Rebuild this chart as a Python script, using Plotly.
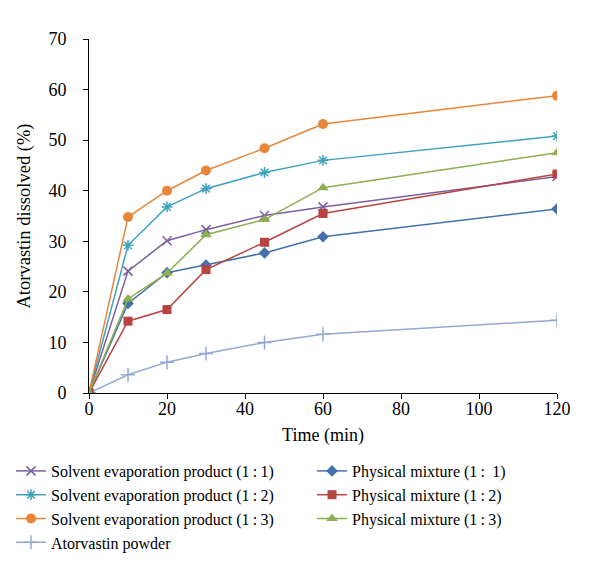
import plotly.graph_objects as go

time_min = [0, 10, 20, 30, 45, 60, 120]

se_11 = [0, 24.1, 30.1, 32.3, 35.1, 36.8, 42.8]
se_12 = [0, 29.2, 36.8, 40.4, 43.6, 46.0, 50.8]
se_13 = [0, 34.8, 40.0, 44.0, 48.4, 53.2, 58.8]
atorvastin = [0, 3.6, 6.1, 7.8, 10.0, 11.6, 14.4]
pm_11 = [0, 17.7, 23.8, 25.3, 27.7, 30.9, 36.4]
pm_12 = [0, 14.2, 16.5, 24.4, 29.8, 35.5, 43.3]
pm_13 = [0, 18.6, 23.7, 31.3, 34.3, 40.6, 47.5]

names = {
    "se11": "Solvent evaporation product (1\u2009:\u20091)",
    "se12": "Solvent evaporation product (1\u2009:\u20092)",
    "se13": "Solvent evaporation product (1\u2009:\u20093)",
    "atv": "Atorvastin powder",
    "pm11": "Physical mixture (1\u2009: \u20091)",
    "pm12": "Physical mixture (1\u2009:\u20092)",
    "pm13": "Physical mixture (1\u2009:\u20093)",
}

FONT = "Liberation Serif"

series = [
    ("se11", se_11, "#7B5E9E", "x-thin-open", 9, "legend"),
    ("se12", se_12, "#3FA2BD", "asterisk-open", 9, "legend"),
    ("se13", se_13, "#E8863A", "circle", 10, "legend"),
    ("atv", atorvastin, "#93A9D2", "cross-thin-open", 10, "legend"),
    ("pm11", pm_11, "#4471AA", "diamond", 9, "legend2"),
    ("pm12", pm_12, "#B8433F", "square", 9, "legend2"),
    ("pm13", pm_13, "#8DAE4F", "triangle-up", 10, "legend2"),
]

fig = go.Figure()
for key, vals, col, sym, size, leg in series:
    thin = sym.endswith("open")
    fig.add_trace(go.Scatter(
        x=time_min, y=vals, name=names[key], mode="lines+markers",
        line=dict(color=col, width=1.5),
        marker=dict(symbol=sym, size=size, color=col,
                    line=dict(color=col, width=1.5 if thin else 0)),
        legend=leg, legendgroup=key,
    ))

# plot area: x 81..549 px, y 31..385 px
PL, PR, PT, PB = 81, 549, 31, 385
def px_x(p):
    return (p - PL) / (PR - PL)
def px_y(p):
    return (PB - p) / (PB - PT)

fig.update_layout(
    width=600, height=575,
    paper_bgcolor="white", plot_bgcolor="white",
    margin=dict(l=PL, r=600 - PR, t=PT, b=575 - PB, autoexpand=False),
    font=dict(family=FONT, size=16, color="black"),
    xaxis=dict(
        range=[0, 120], tickvals=[0, 20, 40, 60, 80, 100, 120],
        showgrid=False, zeroline=False, showline=True, linecolor="black", linewidth=1,
        ticks="outside", ticklen=5, tickcolor="black",
        tickfont=dict(family=FONT, size=18), ticklabelstandoff=-6,
        title=dict(text="Time (min)", standoff=10, font=dict(family=FONT, size=18)),
    ),
    yaxis=dict(
        range=[0, 70], tickvals=[0, 10, 20, 30, 40, 50, 60, 70],
        showgrid=False, zeroline=False, showline=True, linecolor="black", linewidth=1,
        ticks="outside", ticklen=5, tickcolor="black",
        tickfont=dict(family=FONT, size=18), ticklabelstandoff=13,
        title=dict(text="Atorvastin dissolved (%)", standoff=12, font=dict(family=FONT, size=18.5)),
    ),
    legend=dict(
        x=px_x(3), y=px_y(446),
        xanchor="left", yanchor="top", orientation="v",
        tracegroupgap=0, font=dict(family=FONT, size=16), bgcolor="rgba(0,0,0,0)",
    ),
    legend2=dict(
        x=px_x(304), y=px_y(446),
        xanchor="left", yanchor="top", orientation="v",
        tracegroupgap=0, font=dict(family=FONT, size=16), bgcolor="rgba(0,0,0,0)",
    ),
)

fig.write_html("out.html")
